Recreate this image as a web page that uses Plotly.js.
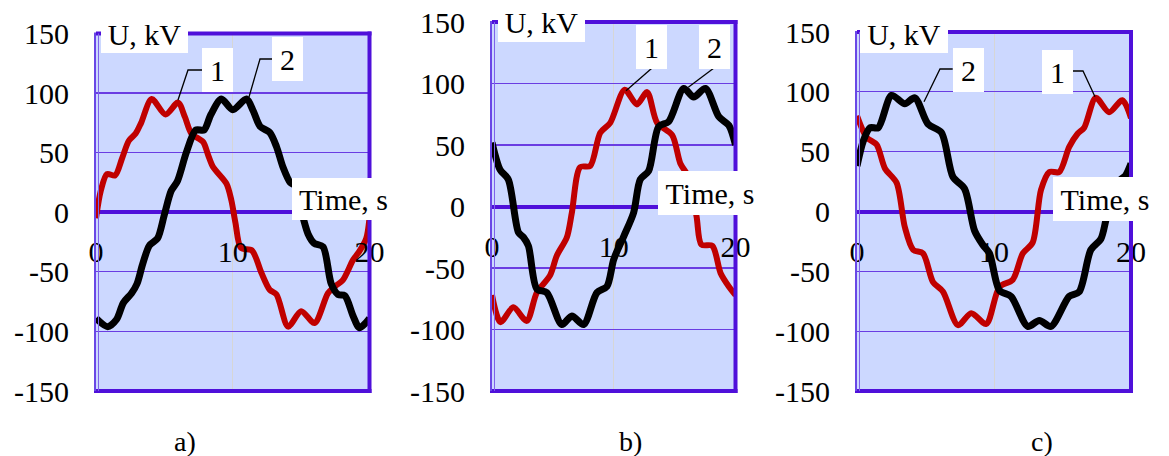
<!DOCTYPE html>
<html>
<head>
<meta charset="utf-8">
<script src="https://cdn.plot.ly/plotly-3.0.1.min.js"></script>
<style>html,body{margin:0;padding:0;background:#fff;}#chart{width:1169px;height:456px;}</style>
</head>
<body>
<div id="chart"></div>
<script>
// ---------- data ----------
const xTickVals = [0, 10, 20];
const xTickText = ["0", "10", "20"];
const yTickVals = [-150, -100, -50, 0, 50, 100, 150];
const yTickText = ["-150", "-100", "-50", "0", "50", "100", "150"];
const panelLabels = ["a)", "b)", "c)"];
const seriesNames = ["1", "2"];

// panel a
const tA1 = [0, 0.35, 0.8, 1.4, 1.9, 2.4, 2.9, 3.3, 4.07, 5.08, 6.0, 6.5, 6.98, 7.83, 8.2, 8.56, 9.54, 9.9, 10.2, 10.6, 11.4, 12.1, 12.7, 13.2, 14.05, 15.0, 15.98, 16.96, 17.5, 18.05, 18.8, 19.3, 19.76, 20];
const uA1 = [-5, 18, 32, 31, 45, 60, 66, 75, 95, 82, 92, 80, 66, 59, 48, 38, 24, 10, -9, -30, -32, -51, -65, -69, -96, -83, -93, -68, -62, -57, -40, -32, -22, -5];
const tA2 = [0, 0.85, 1.5, 2.0, 2.6, 3.0, 3.4, 3.9, 4.5, 5.0, 5.5, 5.95, 6.6, 7.3, 7.9, 8.4, 9.17, 10.0, 11.0, 11.5, 12.0, 12.7, 13.2, 13.67, 14.2, 14.6, 15.0, 15.5, 15.95, 16.6, 17.2, 17.7, 18.2, 18.8, 19.27, 20];
const uA2 = [-89, -96, -90, -76, -68, -60, -44, -28, -22, -2, 18, 26, 50, 69, 69, 82, 95, 86, 95, 85, 72, 67, 55, 38, 25, 22, 2, -18, -26, -29, -60, -69, -70, -87, -97, -89];
// panel b
const tB1 = [0, 0.7, 1.75, 2.85, 3.68, 4.77, 5.32, 6.15, 6.56, 7.24, 8.07, 8.89, 9.71, 10.9, 11.9, 12.74, 13.56, 14.8, 15.47, 16.15, 16.8, 17.2, 18.1, 18.77, 19.45, 20];
const uB1 = [-72, -94, -82, -93, -70, -56, -40, -25, -5, 32, 33, 60, 68, 95, 83, 93, 68, 58, 35, 24, -8, -31, -32, -54, -65, -72];
const tB2 = [0, 0.66, 1.34, 2.17, 2.58, 2.99, 3.68, 4.5, 5.74, 6.56, 7.52, 8.62, 9.44, 10.0, 10.83, 11.63, 12.18, 12.87, 13.69, 14.51, 15.75, 16.57, 17.53, 18.63, 19.45, 20];
const uB2 = [52, 30, 22, -21, -25, -32, -67, -70, -96, -89, -96, -70, -65, -43, -24, -5, 22, 29, 65, 69, 96, 89, 96, 73, 66, 50];
// panel c
const tC1 = [0, 0.7, 1.43, 2.04, 2.89, 3.49, 4.1, 4.82, 5.55, 6.28, 7.37, 8.34, 9.43, 10.4, 11.37, 12.1, 12.82, 13.43, 14.04, 14.76, 15.49, 16.1, 16.58, 17.43, 18.4, 19.37, 20];
const uC1 = [80, 62, 56, 36, 24, -13, -32, -35, -59, -67, -95, -85, -94, -63, -57, -35, -26, 18, 33, 33, 54, 65, 70, 95, 83, 93, 78];
const tC2 = [0, 0.46, 0.95, 1.55, 2.52, 3.49, 4.22, 5.19, 6.16, 7.0, 7.85, 8.58, 9.19, 9.67, 10.4, 11.25, 12.46, 13.31, 14.16, 15.49, 16.22, 17.07, 17.8, 18.28, 19.2, 19.6, 20];
const uC2 = [38, 59, 70, 70, 97, 90, 95, 73, 66, 29, 19, -16, -28, -35, -66, -71, -96, -91, -96, -71, -67, -32, -23, -2, 26, 30, 40];

const seriesT = [[tA1, tA2], [tB1, tB2], [tC1, tC2]];
const seriesU = [[uA1, uA2], [uB1, uB2], [uC1, uC2]];

// ---------- layout geometry (pixels) ----------
const W = 1169, H = 456;
const fx = p => p / W, fy = p => 1 - p / H;
const panels = [
  {L: 96, R: 369.5, T: 33.5, B: 391,
   ukv: [144.5, 34, 87, 38], time: [343.5, 199, 103, 42], pl: [185, 441],
   lab: [[217.5, 70.5, [[202, 70], [188, 70], [178, 100]]], [287.5, 59.5, [[272, 59], [260, 59], [249, 97]]]]},
  {L: 492, R: 735.5, T: 22, B: 391,
   ukv: [541.5, 22.5, 87, 39], time: [710, 193, 104, 44], pl: [630, 441],
   lab: [[651.5, 46.5, [[651.5, 68.5], [626, 90.7]]], [714, 46.5, [[713.3, 68.5], [688.3, 87.3]]]]},
  {L: 857, R: 1131, T: 32, B: 391,
   ukv: [904, 34, 88, 38], time: [1105, 199, 104, 44], pl: [1042, 441],
   lab: [[1057, 72, [[1072.7, 71], [1083, 71], [1095, 96.7]]], [968, 70, [[952.7, 69], [940, 69], [924, 101.7]]]]}
];

const FONT = "Liberation Serif, Times New Roman, serif";
const FS = 30;
const BORDER = "#4F10DA";
const GRID = "#6A3DE2";
const BG = "#CCD8FF";
const colors = ["#C00000", "#000000"];
const widths = [6, 7];

const traces = [];
const layout = {
  width: W, height: H, margin: {l: 0, r: 0, t: 0, b: 0},
  paper_bgcolor: "#fff", showlegend: false,
  font: {family: FONT, size: FS, color: "#000"},
  shapes: [], annotations: []
};

panels.forEach((p, i) => {
  const xs = i === 0 ? "" : String(i + 1);
  const xk = "xaxis" + xs, yk = "yaxis" + xs;
  layout[xk] = {
    domain: [fx(p.L), fx(p.R)], range: [0, 20], anchor: "free",
    position: fy((p.T + p.B) / 2),
    tickmode: "array", tickvals: xTickVals, ticktext: xTickText,
    showgrid: true, gridcolor: "#D6D6D6", gridwidth: 1,
    zeroline: false, showline: false, ticks: "", ticklabelstandoff: 19,
    tickfont: {family: FONT, size: FS, color: "#000"}, fixedrange: true
  };
  layout[yk] = {
    domain: [fy(p.B), fy(p.T)], range: [-150, 150], anchor: "x" + xs,
    tickmode: "array", tickvals: yTickVals, ticktext: yTickText,
    showgrid: true, gridcolor: GRID, gridwidth: 1.3,
    zeroline: true, zerolinecolor: BORDER, zerolinewidth: 4,
    showline: false, ticks: "", ticklabelstandoff: 26,
    tickfont: {family: FONT, size: FS, color: "#000"}, fixedrange: true
  };
  // plot background
  layout.shapes.push({type: "rect", xref: "paper", yref: "paper", layer: "below",
    x0: fx(p.L), x1: fx(p.R), y0: fy(p.B), y1: fy(p.T), fillcolor: BG, line: {width: 0}});
  // borders
  const seg = (x0, y0, x1, y1, w, c) => layout.shapes.push({type: "line", xref: "paper", yref: "paper", layer: "above",
    x0: fx(x0), y0: fy(y0), x1: fx(x1), y1: fy(y1), line: {color: c, width: w}});
  seg(p.L, p.T, p.R + 2, p.T, 4, BORDER);
  seg(p.R, p.T - 2, p.R, p.B + 2, 4, BORDER);
  seg(p.L - 2, p.B, p.R + 2, p.B, 4, BORDER);
  seg(p.L - 1, p.T - 1, p.L - 1, p.B, 2, "#6A48E6");
  seg(p.L + 2.5, p.T, p.L + 2.5, p.B, 1, "#7E62EA");

  for (let s = 0; s < 2; s++) {
    traces.push({
      type: "scatter", mode: "lines", x: seriesT[i][s], y: seriesU[i][s],
      xaxis: "x" + xs, yaxis: "y" + xs, name: seriesNames[s],
      line: {color: colors[s], width: widths[s], shape: "spline", smoothing: 0.8},
      hoverinfo: "skip"
    });
  }

  const box = (cx, cy, w, h, text) => layout.annotations.push({
    xref: "paper", yref: "paper", x: fx(cx), y: fy(cy), xanchor: "center", yanchor: "middle",
    text: text, showarrow: false, bgcolor: "#fff", width: w, height: h, borderpad: 0, borderwidth: 0,
    font: {family: FONT, size: FS, color: "#000"}, align: "center", valign: "middle"});
  box(p.ukv[0], p.ukv[1], p.ukv[2], p.ukv[3], "U, kV");
  box(p.time[0], p.time[1], p.time[2], p.time[3], "Time, s");
  p.lab.forEach((lb, s) => {
    const pts = lb[2];
    const path = pts.map((q, k) => (k ? "L" : "M") + fx(q[0]) + "," + fy(q[1])).join(" ");
    layout.shapes.push({type: "path", xref: "paper", yref: "paper", layer: "above", path: path,
      line: {color: "#000", width: 1.3}});
    box(lb[0], lb[1], 31, 44, seriesNames[s]);
  });
  layout.annotations.push({xref: "paper", yref: "paper", x: fx(p.pl[0]), y: fy(p.pl[1]),
    xanchor: "center", yanchor: "middle", text: panelLabels[i], showarrow: false,
    font: {family: FONT, size: 28, color: "#000"}});
});

Plotly.newPlot("chart", traces, layout, {staticPlot: true, displayModeBar: false});
</script>
</body>
</html>
